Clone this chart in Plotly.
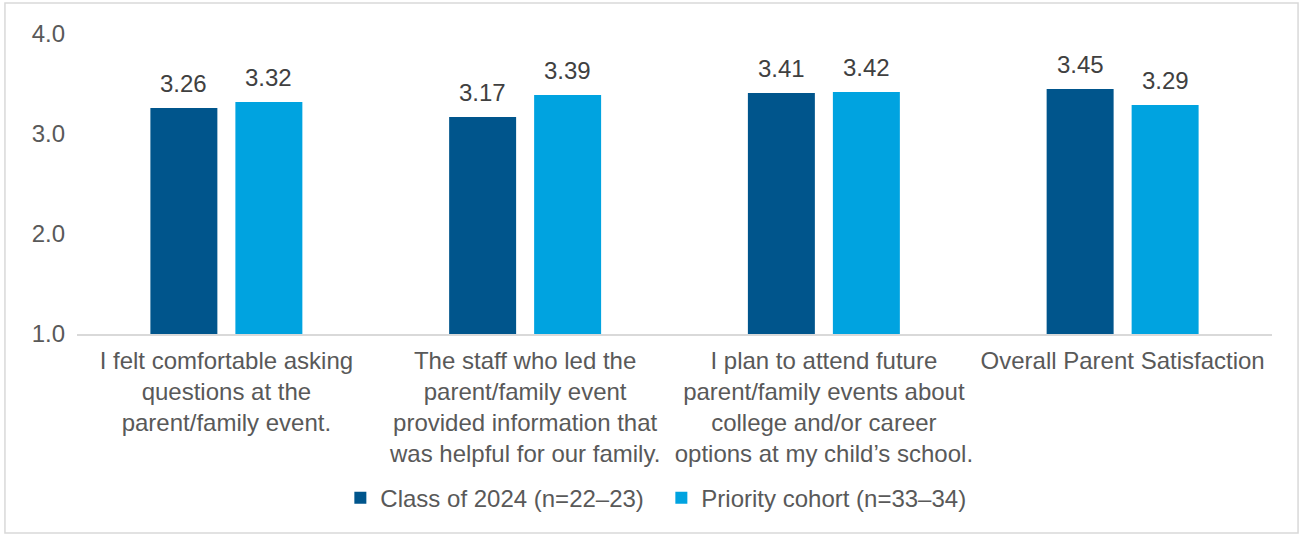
import plotly.graph_objects as go

categories = [
    "I felt comfortable asking<br>questions at the<br>parent/family event.",
    "The staff who led the<br>parent/family event<br>provided information that<br>was helpful for our family.",
    "I plan to attend future<br>parent/family events about<br>college and/or career<br>options at my child\u2019s school.",
    "Overall Parent Satisfaction",
]
series_names = ["Class of 2024 (n=22\u201323)", "Priority cohort (n=33\u201334)"]
class_2024 = [3.26, 3.17, 3.41, 3.45]
priority = [3.32, 3.39, 3.42, 3.29]
y_ticks = [1.0, 2.0, 3.0, 4.0]

dark = "#00558C"
light = "#00A3E0"
font_family = "Liberation Sans, Arial, sans-serif"

fig = go.Figure()
for name, vals, col in [(series_names[0], class_2024, dark), (series_names[1], priority, light)]:
    fig.add_trace(go.Bar(
        x=categories, y=vals, name=name, marker=dict(color=col, line=dict(width=0)),
        cliponaxis=False, hoverinfo="skip",
    ))

annotations = []
for vals, shift in [(class_2024, -42.5), (priority, 42.5)]:
    for cat, v in zip(categories, vals):
        annotations.append(dict(
            x=cat, y=v, xref="x", yref="y", text=f"{v:.2f}", showarrow=False,
            xshift=shift, yshift=9, yanchor="bottom",
            font=dict(size=24, color="#404040", family=font_family),
        ))

fig.update_layout(
    width=1299, height=535,
    margin=dict(l=77, r=27, t=34, b=201, autoexpand=False),
    barmode="group", bargap=0.431, bargroupgap=0.212,
    plot_bgcolor="white", paper_bgcolor="white",
    font=dict(family=font_family, size=24, color="#595959"),
    showlegend=True,
    legend=dict(orientation="h", x=0.489, xanchor="center", y=-0.547, yanchor="middle",
                font=dict(size=24, color="#595959"), itemwidth=30, traceorder="normal",
                entrywidth=276, entrywidthmode="pixels"),
    xaxis=dict(showgrid=False, showline=True, linecolor="#D9D9D9", linewidth=2,
               ticks="", tickfont=dict(size=24, color="#595959"), tickangle=0,
               ticklabelstandoff=4, automargin=False),
    yaxis=dict(range=[1, 4], tickvals=y_ticks, ticktext=[f"{t:.1f}" for t in y_ticks],
               showgrid=False, zeroline=False, showline=False, ticks="",
               ticklabelstandoff=11, tickfont=dict(size=24, color="#595959"),
               automargin=False),
    annotations=annotations,
    shapes=[dict(type="rect", xref="paper", yref="paper",
                 x0=-0.0603, x1=1.0218, y0=-0.663, y1=1.103,
                 line=dict(color="#D9D9D9", width=1.5), fillcolor="rgba(0,0,0,0)", layer="below")],
)

fig.write_html("out.html", config={"displayModeBar": False},
               post_script="document.body.style.margin='0';document.body.style.overflow='hidden';")
